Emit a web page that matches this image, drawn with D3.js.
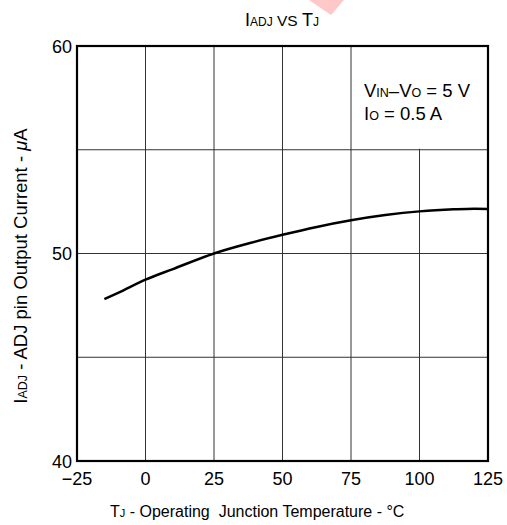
<!DOCTYPE html>
<html>
<head>
<meta charset="utf-8">
<script src="https://cdn.jsdelivr.net/npm/d3@7"></script>
<style>
body { margin: 0; background: #fff; }
text { font-family: "Liberation Sans", Arial, sans-serif; fill: #000; white-space: pre; }
</style>
</head>
<body>
<svg id="chart"></svg>
<script>
// curve
var tempC = [-15, -10, 0, 10, 25, 37.5, 50, 62.5, 75, 87.5, 100, 112.5, 120, 125];
var iadj = [47.8, 48.1, 48.74, 49.25, 50.0, 50.48, 50.9, 51.28, 51.6, 51.85, 52.03, 52.13, 52.16, 52.15];
var xTicks = [-25, 0, 25, 50, 75, 100, 125];
var yTicks = [40, 45, 50, 55, 60];
var yLabels = [40, 50, 60];

var width = 507, height = 525;
var svg = d3.select("#chart").attr("width", width).attr("height", height);

var x = d3.scaleLinear().domain([-25, 125]).range([77, 488]);
var y = d3.scaleLinear().domain([40, 60]).range([461, 46]);

// watermark bit at the top
svg.append("polygon")
	.attr("points", "309,0 344,0 331,15")
	.attr("fill", "#ffc8c8");

// grid
svg.selectAll("line.vgrid")
	.data(xTicks.slice(1, -1))
	.enter()
	.append("line")
	.attr("x1", d => x(d)).attr("x2", d => x(d))
	.attr("y1", y(60)).attr("y2", y(40))
	.attr("stroke", "#333").attr("stroke-width", 1);

svg.selectAll("line.hgrid")
	.data(yTicks.slice(1, -1))
	.enter()
	.append("line")
	.attr("x1", x(-25)).attr("x2", x(125))
	.attr("y1", d => y(d)).attr("y2", d => y(d))
	.attr("stroke", "#333").attr("stroke-width", 1);

// white box behind the conditions
svg.append("rect")
	.attr("x", x(76)).attr("y", y(60))
	.attr("width", x(125) - x(76)).attr("height", y(55) - y(60) - 1)
	.attr("fill", "#fff");

// curve
var line = d3.line()
	.x((d, i) => x(tempC[i]))
	.y(d => y(d))
	.curve(d3.curveMonotoneX);

svg.append("path")
	.attr("d", line(iadj))
	.attr("fill", "none")
	.attr("stroke", "#000")
	.attr("stroke-width", 2.5);

// frame
svg.append("rect")
	.attr("x", x(-25)).attr("y", y(60))
	.attr("width", x(125) - x(-25)).attr("height", y(40) - y(60))
	.attr("fill", "none").attr("stroke", "#000").attr("stroke-width", 2.2);

// tick labels
svg.selectAll("text.xt")
	.data(xTicks)
	.enter()
	.append("text")
	.attr("x", d => x(d))
	.attr("y", 485)
	.attr("text-anchor", "middle")
	.attr("font-size", "18px")
	.text(d => d < 0 ? "\u2212" + Math.abs(d) : d);

svg.selectAll("text.yt")
	.data(yLabels)
	.enter()
	.append("text")
	.attr("x", 72)
	.attr("y", d => y(d) + 6.5)
	.attr("text-anchor", "end")
	.attr("font-size", "18px")
	.text(d => d);

// title
var title = svg.append("text")
	.attr("x", 282).attr("y", 26)
	.attr("text-anchor", "middle")
	.attr("font-size", "18px");
title.append("tspan").text("I");
title.append("tspan").attr("font-size", "12px").text("ADJ");
title.append("tspan").attr("font-size", "15.5px").text(" VS ");
title.append("tspan").text("T");
title.append("tspan").attr("font-size", "12px").text("J");

// conditions
var c1 = svg.append("text").attr("x", 364).attr("y", 97).attr("font-size", "18.5px");
c1.append("tspan").text("V");
c1.append("tspan").attr("font-size", "12.5px").text("IN");
c1.append("tspan").text("\u2013V");
c1.append("tspan").attr("font-size", "12.5px").text("O");
c1.append("tspan").text(" = 5 V");

var c2 = svg.append("text").attr("x", 364).attr("y", 120).attr("font-size", "18.5px");
c2.append("tspan").text("I");
c2.append("tspan").attr("font-size", "12.5px").text("O");
c2.append("tspan").text(" = 0.5 A");

// axis titles
var xt = svg.append("text")
	.attr("x", 110).attr("y", 517)
	.attr("font-size", "16px");
xt.append("tspan").text("T");
xt.append("tspan").attr("font-size", "11px").text("J");
xt.append("tspan").text(" - Operating\u00a0 Junction Temperature - \u00b0C");

var yt = svg.append("text")
	.attr("transform", "translate(27,266) rotate(-90)")
	.attr("text-anchor", "middle")
	.attr("font-size", "18.5px");
yt.append("tspan").text("I");
yt.append("tspan").attr("font-size", "12.5px").text("ADJ");
yt.append("tspan").text(" - ADJ pin Output Current - ");
yt.append("tspan").attr("font-style", "italic").text("\u03bc");
yt.append("tspan").text("A");
</script>
</body>
</html>
